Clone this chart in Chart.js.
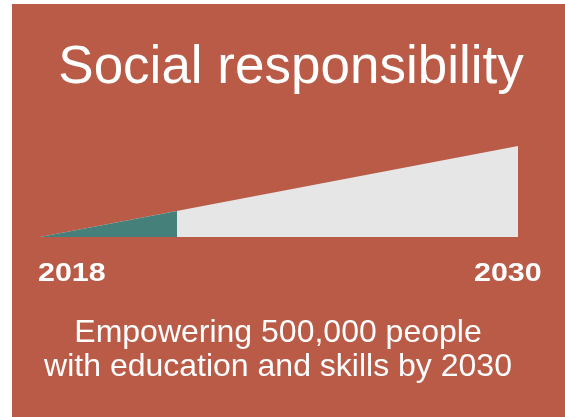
<!DOCTYPE html>
<html>
<head>
<meta charset="utf-8">
<script src="https://cdn.jsdelivr.net/npm/chart.js@4/dist/chart.umd.min.js"></script>
<style>
  html, body { margin: 0; padding: 0; background: #BA5B47; overflow: hidden; }
  #wrap { position: relative; width: 565px; height: 417px; }
  canvas { display: block; }
</style>
</head>
<body>
<div id="wrap"><canvas id="c" width="565" height="417"></canvas></div>
<script>
// Target path: from nobody in 2018 to 500,000 people in 2030
const targetYears = [2018, 2030];
const targetPeople = [0, 500000];
// Progress reached so far along the same path
const reachedYears = [2018, 2021.44];
const reachedPeople = [0, 143000];
// Texts
const titleText = 'Social responsibility';
const captionLines = ['Empowering 500,000 people', 'with education and skills by 2030'];
const yearLabels = ['2018', '2030'];

const BG = '#BA5B47';
const FONT = '"Liberation Sans", Arial, Helvetica, sans-serif';

const toPoints = (xs, ys) => xs.map((x, i) => ({ x: x, y: ys[i] }));

const panelPlugin = {
  id: 'panel',
  beforeDraw(chart) {
    const ctx = chart.ctx;
    ctx.save();
    ctx.fillStyle = '#ffffff';
    ctx.fillRect(0, 0, chart.width, chart.height);
    ctx.fillStyle = BG;
    ctx.fillRect(12, 4, chart.width - 12, chart.height - 4);
    ctx.restore();
  },
  afterDraw(chart) {
    const ctx = chart.ctx;
    const xs = chart.scales.x;
    ctx.save();
    ctx.fillStyle = '#ffffff';
    ctx.textBaseline = 'alphabetic';

    // Title
    ctx.font = '53px ' + FONT;
    ctx.textAlign = 'center';
    ctx.fillText(titleText, 291, 83);

    // Year labels under the start and end of the wedge
    ctx.font = 'bold 26px ' + FONT;
    ctx.textAlign = 'left';
    const drawWide = (txt, x, y) => {
      ctx.save();
      ctx.translate(x, y);
      ctx.scale(1.17, 1);
      ctx.fillText(txt, 0, 0);
      ctx.restore();
    };
    const startX = xs.getPixelForValue(targetYears[0]);
    const endX = xs.getPixelForValue(targetYears[1]);
    drawWide(yearLabels[0], startX - 2, 281);
    drawWide(yearLabels[1], endX - 44, 281);

    // Caption
    ctx.font = '32px ' + FONT;
    ctx.textAlign = 'center';
    ctx.fillText(captionLines[0], 278, 342);
    ctx.fillText(captionLines[1], 278, 376);
    ctx.restore();
  }
};

new Chart(document.getElementById('c'), {
  type: 'line',
  data: {
    datasets: [
      {
        label: 'Reached',
        data: toPoints(reachedYears, reachedPeople),
        backgroundColor: '#45817A',
        borderColor: '#45817A',
        borderWidth: 0,
        pointRadius: 0,
        fill: 'origin',
        tension: 0,
        order: 0
      },
      {
        label: 'Target',
        data: toPoints(targetYears, targetPeople),
        backgroundColor: '#E6E6E6',
        borderColor: '#E6E6E6',
        borderWidth: 0,
        pointRadius: 0,
        fill: 'origin',
        tension: 0,
        order: 1
      }
    ]
  },
  options: {
    responsive: false,
    animation: false,
    devicePixelRatio: 1,
    layout: { padding: { left: 40, right: 47, top: 146, bottom: 180 } },
    plugins: {
      legend: { display: false },
      tooltip: { enabled: false },
      title: { display: false }
    },
    scales: {
      x: { type: 'linear', min: 2018, max: 2030, display: false },
      y: { type: 'linear', min: 0, max: 500000, display: false }
    }
  },
  plugins: [panelPlugin]
});
</script>
</body>
</html>
